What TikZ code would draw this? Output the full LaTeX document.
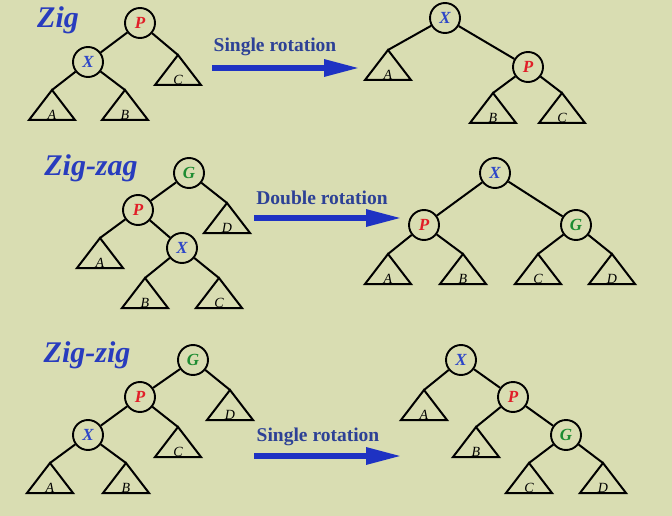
\documentclass[tikz,border=0pt]{standalone}
\usepackage{fontspec}
\setmainfont{Liberation Serif}
\usetikzlibrary{arrows.meta,calc}
\definecolor{bg}{RGB}{217,221,178}
\definecolor{nblue}{RGB}{45,70,200}
\definecolor{nred}{RGB}{225,30,40}
\definecolor{ngreen}{RGB}{30,140,50}
\definecolor{tblue}{RGB}{40,60,190}
\definecolor{ablue}{RGB}{30,50,195}
\definecolor{lblue}{RGB}{45,65,150}
\tikzset{
  vnode/.style={circle,draw=black,line width=1.9pt,fill=bg,minimum size=30pt,inner sep=0pt,font=\fontsize{17}{17}\selectfont\bfseries\itshape},
  edge/.style={line width=2pt,black},
  tri/.style={line width=2pt,black,line join=miter},
  tlbl/.style={font=\fontsize{14}{14}\selectfont\itshape,inner sep=0pt,anchor=base},
  title/.style={font=\fontsize{30}{30}\selectfont\bfseries\itshape,text=tblue,inner sep=0pt},
  albl/.style={font=\fontsize{19.5}{19.5}\selectfont\bfseries,text=lblue,inner sep=0pt},
  rot/.style={line width=6pt,ablue,-{Triangle[length=36pt,width=16pt]}},
}
\newcommand{\subtri}[4]{%
  \coordinate (#1) at (#2,#3);
  \draw[tri] (#1) -- ++(-23,30) -- ++(46,0) -- cycle;
  \node[tlbl] (#1l) at ($(#1)+(0,29.5)$) {#4};
}
\begin{document}
\begin{tikzpicture}[x=1pt,y=-1pt]
\fill[bg] (0,0) rectangle (672,516);
\useasboundingbox (0,0) rectangle (672,516);

% ---------- Zig ----------
\node[title] (t1) at (58,20) {Zig};
\subtri{a1}{52}{90}{A}
\subtri{b1}{125}{90}{B}
\subtri{c1}{178}{55}{C}
\node[vnode,text=nred] (p1) at (140,23) {P};
\node[vnode,text=nblue] (x1) at (88,62) {X};
\draw[edge] (p1) -- (x1);
\draw[edge] (p1) -- (c1);
\draw[edge] (x1) -- (a1);
\draw[edge] (x1) -- (b1);

\node[albl] (l1) at (275,47) {Single rotation};
\coordinate (s1) at (212,68);
\coordinate (e1) at (360,68);
\draw[rot] (s1) -- (e1);

\subtri{a1r}{388}{50}{A}
\subtri{b1r}{493}{93}{B}
\subtri{c1r}{562}{93}{C}
\node[vnode,text=nblue] (x1r) at (445,18) {X};
\node[vnode,text=nred] (p1r) at (528,67) {P};
\draw[edge] (x1r) -- (a1r);
\draw[edge] (x1r) -- (p1r);
\draw[edge] (p1r) -- (b1r);
\draw[edge] (p1r) -- (c1r);

% ---------- Zig-zag ----------
\node[title] (t2) at (91,168) {Zig-zag};
\subtri{d2}{227}{203}{D}
\subtri{a2}{100}{238}{A}
\subtri{b2}{145}{278}{B}
\subtri{c2}{219}{278}{C}
\node[vnode,text=ngreen] (g2) at (189,173) {G};
\node[vnode,text=nred] (p2) at (138,210) {P};
\node[vnode,text=nblue] (x2) at (182,248) {X};
\draw[edge] (g2) -- (p2);
\draw[edge] (g2) -- (d2);
\draw[edge] (p2) -- (a2);
\draw[edge] (p2) -- (x2);
\draw[edge] (x2) -- (b2);
\draw[edge] (x2) -- (c2);

\node[albl] (l2) at (322,198) {Double rotation};
\coordinate (s2) at (254,218);
\coordinate (e2) at (402,218);
\draw[rot] (s2) -- (e2);

\subtri{a2r}{388}{254}{A}
\subtri{b2r}{463}{254}{B}
\subtri{c2r}{538}{254}{C}
\subtri{d2r}{612}{254}{D}
\node[vnode,text=nblue] (x2r) at (495,173) {X};
\node[vnode,text=nred] (p2r) at (424,225) {P};
\node[vnode,text=ngreen] (g2r) at (576,225) {G};
\draw[edge] (x2r) -- (p2r);
\draw[edge] (x2r) -- (g2r);
\draw[edge] (p2r) -- (a2r);
\draw[edge] (p2r) -- (b2r);
\draw[edge] (g2r) -- (c2r);
\draw[edge] (g2r) -- (d2r);

% ---------- Zig-zig ----------
\node[title] (t3) at (87,355) {Zig-zig};
\subtri{d3}{230}{390}{D}
\subtri{c3}{178}{427}{C}
\subtri{a3}{50}{463}{A}
\subtri{b3}{126}{463}{B}
\node[vnode,text=ngreen] (g3) at (193,360) {G};
\node[vnode,text=nred] (p3) at (140,397) {P};
\node[vnode,text=nblue] (x3) at (88,435) {X};
\draw[edge] (g3) -- (p3);
\draw[edge] (g3) -- (d3);
\draw[edge] (p3) -- (x3);
\draw[edge] (p3) -- (c3);
\draw[edge] (x3) -- (a3);
\draw[edge] (x3) -- (b3);

\node[albl] (l3) at (318,437) {Single rotation};
\coordinate (s3) at (254,456);
\coordinate (e3) at (402,456);
\draw[rot] (s3) -- (e3);

\subtri{a3r}{424}{390}{A}
\subtri{b3r}{476}{427}{B}
\subtri{c3r}{529}{463}{C}
\subtri{d3r}{603}{463}{D}
\node[vnode,text=nblue] (x3r) at (461,360) {X};
\node[vnode,text=nred] (p3r) at (513,397) {P};
\node[vnode,text=ngreen] (g3r) at (566,435) {G};
\draw[edge] (x3r) -- (a3r);
\draw[edge] (x3r) -- (p3r);
\draw[edge] (p3r) -- (b3r);
\draw[edge] (p3r) -- (g3r);
\draw[edge] (g3r) -- (c3r);
\draw[edge] (g3r) -- (d3r);
\end{tikzpicture}
\end{document}
